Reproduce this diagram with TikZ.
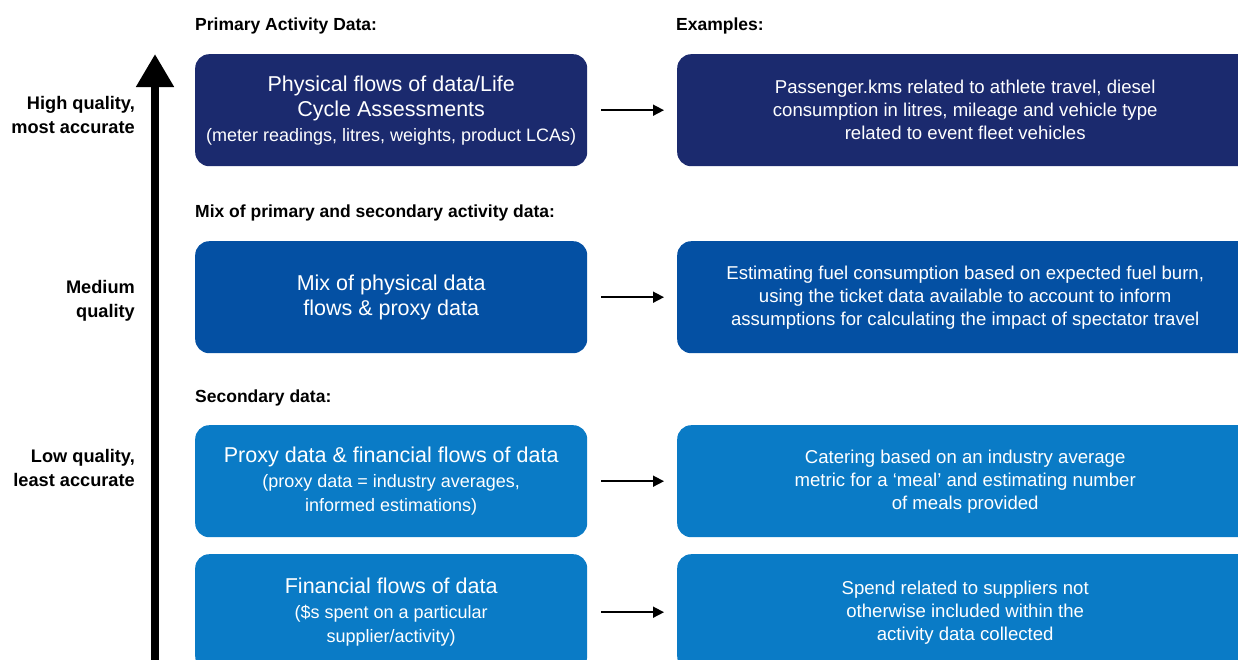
\documentclass[tikz,border=0pt]{standalone}
\usepackage{fontspec}
\setmainfont{Liberation Sans}
\usetikzlibrary{arrows.meta,positioning}

\definecolor{navyq}{HTML}{1B2A6E}
\definecolor{midq}{HTML}{0450A3}
\definecolor{lightq}{HTML}{0A7BC6}

\newcommand{\subline}[1]{{\fontsize{18}{24}\selectfont #1}}

\begin{document}
\begin{tikzpicture}[x=1pt, y=-1pt, >={Triangle[length=11pt,width=11pt]},
    tierbox/.style={rounded corners=14pt, text=white, align=center, inner sep=0pt,
        minimum width=392pt, minimum height=112pt, anchor=north west,
        font=\fontsize{21.5}{25}\selectfont},
    examplebox/.style={tierbox, minimum width=576pt, font=\fontsize{18.6}{23}\selectfont},
    heading/.style={font=\bfseries\fontsize{17.5}{20}\selectfont, anchor=west, inner sep=0pt},
    quality/.style={font=\bfseries\fontsize{18.2}{24}\selectfont, align=right, anchor=east, inner sep=0pt},
    flow/.style={->, line width=1.6pt, shorten <=14pt, shorten >=13pt}]
    \useasboundingbox (0,0) rectangle (1238,659);
    \clip (0,0) rectangle (1238,659);

    % quality axis
    \coordinate (axisbot) at (155,670);
    \coordinate (axistop) at (155,54);
    \draw[line width=8pt, -{Triangle[length=33pt,width=36pt]}] (axisbot) -- (axistop);

    \node[quality] (qhigh) at (135,115) {High quality,\\most accurate};
    \node[quality] (qmed) at (135,301) {Medium\\quality};
    \node[quality] (qlow) at (135,468) {Low quality,\\least accurate};

    % headings
    \node[heading] (hprimary) at (195,26) {Primary Activity Data:};
    \node[heading] (hexamples) at (676,26) {Examples:};
    \node[heading] (hmix) at (195,213) {Mix of primary and secondary activity data:};
    \node[heading] (hsecondary) at (195,398) {Secondary data:};

    % data tiers
    \node[tierbox, fill=navyq] (physical) at (195,54)
        {Physical flows of data/Life\\Cycle Assessments\\\subline{(meter readings, litres, weights, product LCAs)}};
    \node[tierbox, fill=midq] (mixed) at (195,241)
        {Mix of physical data\\flows \& proxy data};
    \node[tierbox, fill=lightq] (proxy) at (195,425)
        {Proxy data \& financial flows of data\\\subline{(proxy data = industry averages,}\\[-1pt]\subline{informed estimations)}};
    \node[tierbox, fill=lightq, minimum height=116pt] (financial) at (195,554)
        {Financial flows of data\\\subline{(\$s spent on a particular}\\[-1pt]\subline{supplier/activity)}};

    % examples
    \node[examplebox, fill=navyq] (exphysical) at (677,54)
        {Passenger.kms related to athlete travel, diesel\\consumption in litres, mileage and vehicle type\\related to event fleet vehicles};
    \node[examplebox, fill=midq] (exmixed) at (677,241)
        {Estimating fuel consumption based on expected fuel burn,\\using the ticket data available to account to inform\\assumptions for calculating the impact of spectator travel};
    \node[examplebox, fill=lightq] (exproxy) at (677,425)
        {Catering based on an industry average\\metric for a ‘meal’ and estimating number\\of meals provided};
    \node[examplebox, fill=lightq, minimum height=116pt] (exfinancial) at (677,554)
        {Spend related to suppliers not\\otherwise included within the\\activity data collected};

    \draw[flow] (physical) -- (exphysical);
    \draw[flow] (mixed) -- (exmixed);
    \draw[flow] (proxy) -- (exproxy);
    \draw[flow] (financial) -- (exfinancial);
\end{tikzpicture}
\end{document}
